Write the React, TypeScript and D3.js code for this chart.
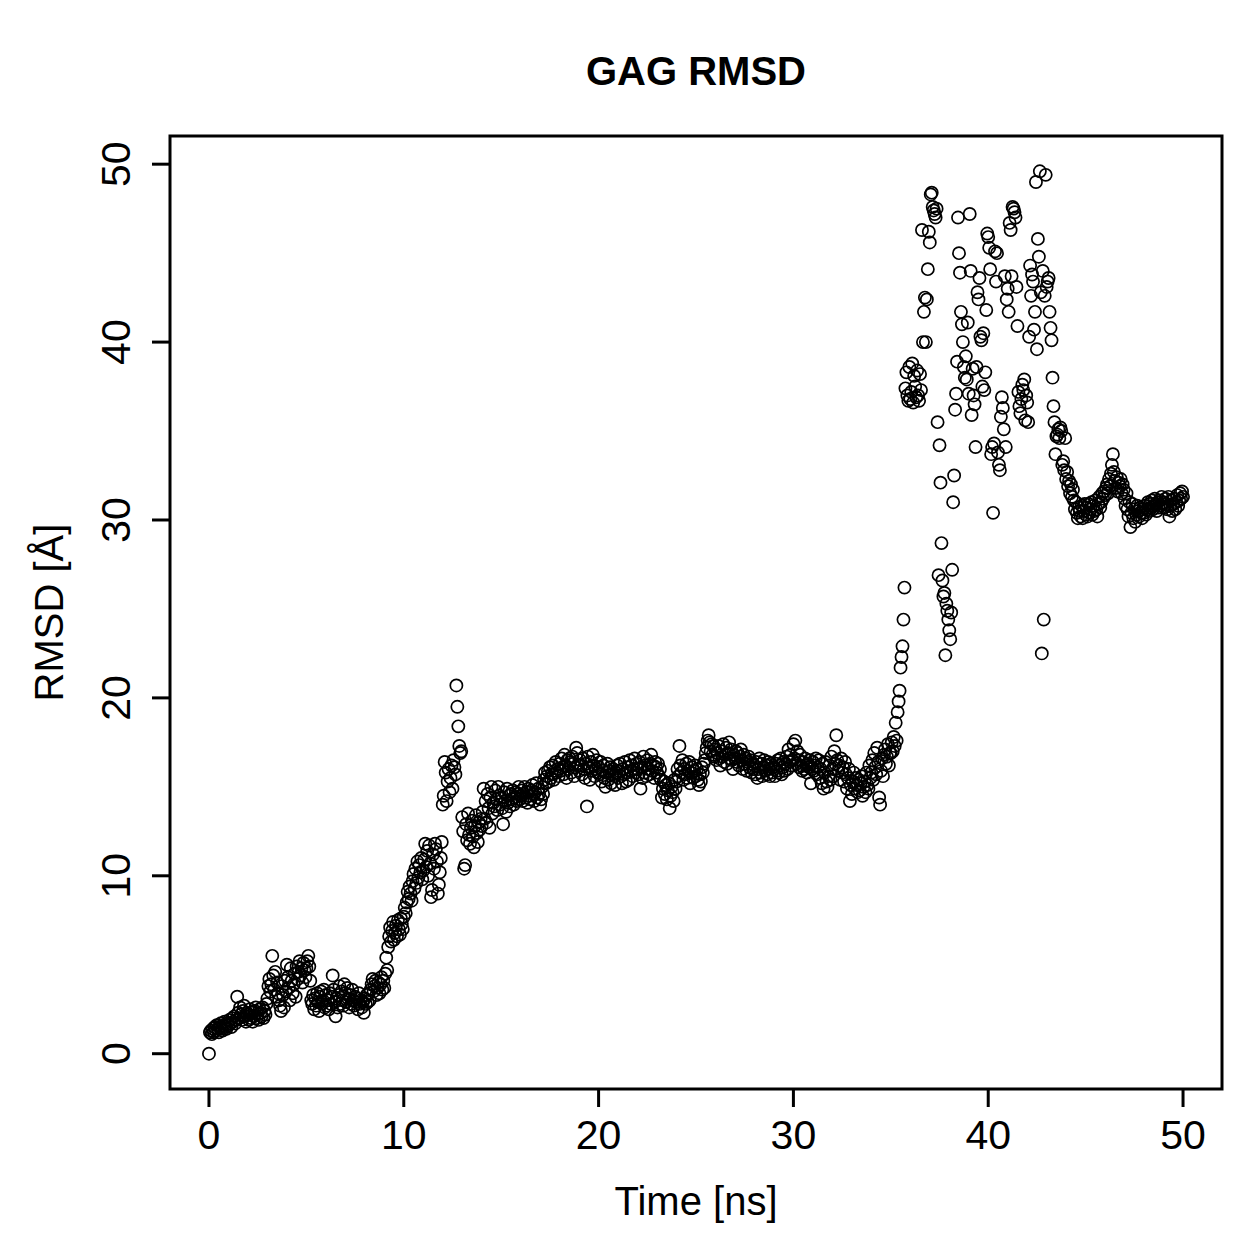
import React from "react";
import * as d3 from "d3";

// GAG backbone RMSD over a 50 ns trajectory, one frame every 0.05 ns.
// Each row holds the frames of one nanosecond; row index = starting ns.
const rmsdEarly: number[][] = [
  [0, 1.2, 1.3, 1.1, 1.4, 1.2, 1.5, 1.3, 1.6, 1.4, 1.2, 1.5, 1.7, 1.4, 1.3, 1.6, 1.8, 1.5, 1.4, 1.7],
  [1.6, 1.9, 1.7, 1.5, 2.0, 1.8, 2.1, 1.7, 1.9, 3.2, 2.3, 2.0, 2.6, 2.2, 1.9, 2.4, 2.7, 2.1, 1.8, 2.3],
  [2.2, 1.9, 2.5, 2.0, 2.3, 1.8, 2.1, 2.4, 2.6, 2.0, 2.2, 1.9, 2.5, 2.3, 2.1, 2.6, 2.0, 2.4, 2.2, 2.8],
  [3.1, 3.8, 4.2, 3.5, 3.9, 5.5, 4.4, 3.6, 4.6, 3.2, 4.0, 3.4, 3.0, 2.7, 2.4, 3.8, 3.3, 2.6, 4.1, 3.5],
  [5.0, 4.3, 3.7, 3.0, 4.8, 4.1, 3.4, 3.9, 4.5, 3.2, 4.9, 4.2, 4.6, 5.2, 4.4, 4.8, 4.0, 5.1, 4.7, 4.3],
  [4.8, 5.2, 5.5, 4.9, 4.1, 3.0, 2.8, 3.3, 2.5, 3.1, 2.7, 3.4, 2.9, 2.4, 3.2, 3.5, 2.8, 3.0, 3.6, 2.6],
  [3.3, 2.7, 3.0, 2.5, 3.4, 2.8, 3.2, 4.4, 3.6, 2.9, 2.1, 3.1, 2.6, 3.3, 3.8, 2.8, 3.5, 3.0, 2.7, 3.9],
  [3.4, 2.9, 3.7, 3.1, 2.6, 3.3, 2.8, 3.6, 3.0, 2.7, 3.2, 2.9, 3.1, 2.5, 3.4, 2.8, 3.0, 2.6, 2.9, 2.3],
  [3.1, 2.8, 3.3, 2.9, 3.4, 3.0, 3.6, 3.9, 4.2, 3.5, 3.8, 4.1, 3.3, 3.7, 4.0, 3.4, 3.9, 4.3, 3.6, 4.1],
  [3.7, 4.5, 5.4, 4.7, 6.0, 6.6, 7.1, 6.3, 6.9, 7.4, 6.4, 6.8, 7.2, 6.6, 7.5, 7.0, 6.7, 7.6, 7.3, 7.0],
  [7.7, 8.2, 7.9, 8.5, 9.1, 8.7, 9.4, 9.0, 8.6, 9.7, 10.1, 9.3, 10.4, 9.6, 10.8, 9.9, 10.6, 10.2, 11.0, 9.8],
  [10.3, 10.9, 11.8, 10.5, 11.4, 10.0, 11.7, 10.7, 8.8, 9.2, 11.2, 10.4, 11.8, 11.5, 10.8, 9.0, 9.5, 10.2, 11.0, 11.9],
];

const rmsdPlateau: number[][] = [
  [14.0, 14.5, 16.4, 15.8, 14.2, 15.3, 16.0, 14.7, 15.5, 16.2, 14.9, 16.5, 16.1, 15.7, 20.7, 19.5, 18.4, 17.3, 16.9, 17.0],
  [13.3, 12.5, 10.4, 10.6, 12.9, 12.0, 13.5, 12.3, 11.8, 12.7, 13.1, 12.2, 11.6, 12.8, 13.4, 12.4, 11.9, 13.0, 12.6, 13.2],
  [12.8, 13.6, 14.9, 13.2, 14.2, 13.0, 14.6, 13.8, 12.7, 14.4, 15.0, 13.5, 14.1, 13.9, 14.8, 14.3, 13.7, 15.0, 14.5, 14.0],
  [14.4, 13.8, 12.9, 14.7, 14.2, 13.6, 14.9, 14.1, 14.5, 13.9, 14.6, 14.3, 14.8, 14.0, 14.4, 14.7, 14.2, 14.6, 15.0, 14.3],
  [14.5, 14.8, 14.2, 14.6, 15.0, 14.4, 14.7, 14.1, 14.9, 14.5, 14.3, 14.8, 15.1, 14.6, 14.2, 14.7, 15.2, 14.4, 14.9, 14.6],
  [14.0, 14.3, 15.0, 14.6, 15.4, 15.8, 15.2, 15.6, 15.9, 15.3, 16.1, 15.5, 15.7, 16.2, 15.4, 15.9, 16.4, 15.8, 16.0, 15.6],
  [16.3, 15.9, 16.6, 16.1, 15.7, 16.8, 16.2, 15.5, 16.5, 16.0, 16.6, 16.4, 15.8, 16.7, 16.3, 15.6, 16.1, 17.2, 16.9, 16.2],
  [15.9, 16.5, 16.2, 15.7, 16.6, 16.0, 15.5, 16.3, 13.9, 16.7, 16.1, 15.4, 16.4, 15.9, 16.8, 16.2, 15.6, 16.0, 16.5, 15.8],
  [16.1, 15.7, 16.4, 15.3, 15.9, 16.2, 15.5, 15.0, 15.8, 16.3, 15.4, 15.9, 16.1, 15.2, 15.7, 16.0, 15.6, 15.1, 15.8, 16.2],
  [15.5, 15.9, 16.3, 15.6, 15.2, 16.0, 15.7, 16.4, 15.3, 15.8, 16.1, 15.4, 16.5, 15.9, 16.2, 15.6, 16.0, 16.6, 15.8, 16.3],
  [16.0, 15.7, 16.4, 14.9, 16.1, 15.5, 16.7, 15.8, 16.2, 15.6, 16.5, 16.0, 15.7, 16.3, 16.8, 15.9, 16.2, 15.5, 16.4, 16.1],
  [15.8, 16.3, 15.6, 16.0, 15.4, 14.4, 14.9, 15.3, 14.6, 15.1, 14.3, 14.8, 15.2, 13.8, 14.5, 15.0, 14.7, 14.2, 15.4, 14.9],
  [15.3, 16.0, 15.6, 17.3, 16.2, 15.8, 16.5, 15.4, 16.0, 15.7, 16.3, 15.5, 15.9, 16.4, 15.2, 15.8, 16.1, 15.5, 15.9, 16.2],
  [15.6, 16.0, 15.4, 15.1, 15.7, 15.3, 16.1, 15.8, 16.3, 16.5, 16.9, 17.2, 17.6, 17.9, 17.5, 17.0, 17.4, 16.8, 17.3, 16.7],
  [17.1, 16.5, 16.9, 17.3, 16.6, 16.2, 17.0, 16.7, 17.4, 16.4, 16.8, 17.2, 16.3, 16.9, 17.5, 16.6, 17.1, 16.5, 16.0, 16.8],
  [16.6, 17.0, 16.4, 16.9, 16.2, 16.7, 17.1, 16.5, 16.0, 16.8, 16.3, 16.6, 15.9, 16.4, 16.7, 16.1, 16.5, 15.8, 16.3, 16.0],
  [16.2, 15.7, 16.4, 15.5, 16.0, 16.6, 15.8, 16.3, 15.6, 16.1, 16.5, 15.9, 16.2, 15.7, 16.4, 16.0, 15.6, 16.3, 15.8, 16.1],
  [16.0, 15.6, 16.3, 15.9, 16.5, 15.8, 16.2, 16.6, 15.7, 16.1, 16.4, 15.9, 16.3, 16.7, 16.0, 17.1, 16.4, 16.8, 16.2, 16.5],
  [17.4, 16.6, 17.6, 16.3, 17.0, 16.5, 16.1, 16.8, 16.2, 15.9, 16.4, 16.0, 16.6, 16.2, 15.8, 16.3, 16.1, 16.5, 15.2, 16.0],
  [16.4, 15.9, 16.2, 16.6, 15.7, 16.1, 16.5, 15.5, 16.0, 15.2, 16.3, 14.9, 15.8, 16.4, 15.3, 15.0, 15.6, 16.2, 15.4, 16.7],
  [16.0, 15.6, 17.0, 16.3, 17.9, 16.5, 15.9, 16.2, 15.4, 16.6, 15.8, 16.1, 15.3, 16.4, 15.7, 14.9, 15.5, 16.0, 14.2, 15.1],
  [14.6, 15.3, 15.8, 14.9, 15.5, 15.1, 14.7, 15.4, 14.8, 15.2, 15.6, 14.5, 15.0, 15.3, 14.7, 15.8, 15.1, 14.9, 16.2, 15.5],
  [15.8, 16.5, 15.4, 16.9, 16.1, 15.7, 17.2, 16.4, 14.4, 14.0, 15.9, 16.6, 15.6, 16.8, 17.1, 16.3, 16.7, 17.4, 16.2, 16.9],
];

const rmsdTransition: number[][] = [
  [16.9, 17.5, 17.0, 17.8, 17.3, 18.6, 17.6, 19.2, 19.8, 20.4, 21.7, 22.3, 22.9, 24.4, 26.2, 37.4, 38.3, 37.0, 36.7, 38.6],
  [36.8, 37.2, 38.8, 36.6, 38.1, 37.5, 36.9, 38.4, 37.0, 36.7, 38.2, 37.3, 46.3, 40.0, 41.7, 42.5, 40.0, 42.4, 44.1, 46.2],
  [45.6, 48.3, 48.4, 47.6, 47.4, 47.2, 47.0, 47.5, 35.5, 26.9, 34.2, 32.1, 28.7, 26.6, 25.7, 25.9, 22.4, 25.3, 24.9, 24.4],
  [23.8, 23.3, 24.8, 27.2, 31.0, 32.5, 36.2, 37.1, 38.9, 47.0, 45.0, 43.9, 41.7, 41.0, 40.0, 38.6, 38.0, 39.2, 37.9, 41.1],
  [37.1, 47.2, 44.0, 35.9, 38.5, 37.0, 36.5, 34.1, 38.6, 42.8, 42.4, 43.6, 40.3, 40.1, 37.5, 40.5, 37.3, 38.3, 41.8, 46.1],
  [45.9, 45.3, 44.1, 33.7, 34.1, 30.4, 34.3, 45.1, 43.4, 45.0, 33.8, 33.1, 32.8, 35.8, 36.9, 36.3, 35.1, 43.7, 34.1, 42.4],
  [43.0, 41.7, 46.7, 46.3, 43.7, 47.6, 47.5, 47.3, 47.0, 43.1, 40.9, 37.2, 36.4, 36.0, 36.8, 37.6, 37.3, 37.9, 35.6, 37.0],
  [36.6, 35.5, 40.3, 44.3, 42.6, 43.8, 43.4, 40.7, 41.7, 49.0, 39.6, 45.8, 44.8, 49.6, 42.8, 22.5, 44.0, 24.4, 42.6, 49.4],
  [43.1, 43.4, 43.6, 41.7, 40.8, 40.1, 38.0, 36.4, 35.5, 33.7, 34.7, 34.8, 35.1, 34.6, 35.2, 35.0, 33.1, 33.3, 32.8, 34.6],
];

const rmsdLate: number[][] = [
  [32.3, 32.7, 31.9, 32.2, 31.5, 32.0, 31.3, 31.7, 31.1, 30.6, 31.0, 30.4, 30.1, 30.7, 30.5, 30.2, 30.8, 30.1, 30.5, 30.9],
  [30.3, 30.7, 30.2, 30.9, 30.4, 30.6, 31.0, 30.3, 30.8, 30.5, 31.1, 30.6, 30.2, 30.9, 31.3, 30.7, 31.0, 31.5, 31.2, 31.6],
  [31.4, 31.8, 32.0, 31.5, 32.3, 31.9, 32.6, 33.1, 33.7, 32.7, 32.2, 31.8, 32.4, 31.6, 32.1, 31.9, 32.3, 31.5, 32.0, 31.7],
  [31.2, 30.8, 31.5, 30.6, 30.2, 31.0, 29.6, 30.4, 30.9, 30.1, 30.6, 29.9, 30.3, 30.8, 30.5, 30.2, 30.7, 30.4, 30.1, 30.6],
  [30.4, 30.8, 30.3, 30.6, 31.0, 30.5, 30.9, 30.7, 31.1, 30.6, 30.8, 31.2, 30.9, 30.5, 31.0, 30.7, 31.1, 30.8, 31.3, 30.9],
  [31.0, 30.7, 31.2, 30.9, 30.6, 31.3, 30.2, 30.8, 31.1, 30.5, 30.9, 31.2, 30.6, 31.0, 31.4, 30.8, 31.1, 31.5, 31.2, 31.6],
  [31.3],
];

const xTicks = [0, 10, 20, 30, 40, 50];
const yTicks = [0, 10, 20, 30, 40, 50];

const W = 1259;
const H = 1259;
const box = { left: 170, right: 1222, top: 136, bottom: 1089 };
const FONT = "'Liberation Sans', Arial, Helvetica, sans-serif";

type Frame = { t: number; v: number };

const frames: Frame[] = [...rmsdEarly, ...rmsdPlateau, ...rmsdTransition, ...rmsdLate].flatMap(
  (row, ns) => row.map((v, j) => ({ t: ns + j / row.length, v }))
);

// R-style axis limits: data range padded by 4% on each side
function padded([lo, hi]: [number, number]): [number, number] {
  const d = (hi - lo) * 0.04;
  return [lo - d, hi + d];
}

export default function App() {
  const tExt = d3.extent(frames, (d) => d.t) as [number, number];
  const vExt = d3.extent(frames, (d) => d.v) as [number, number];
  const x = d3.scaleLinear().domain(padded(tExt)).range([box.left, box.right]);
  const y = d3.scaleLinear().domain(padded(vExt)).range([box.bottom, box.top]);
  const cx = (box.left + box.right) / 2;
  const cy = (box.top + box.bottom) / 2;

  return (
    <svg
      width={W}
      height={H}
      viewBox={`0 0 ${W} ${H}`}
      style={{ position: "absolute", left: 0, top: 0, background: "#fff" }}
      fontFamily={FONT}
    >
      <rect x={0} y={0} width={W} height={H} fill="#fff" />
      <text x={cx} y={85} textAnchor="middle" fontSize={40} fontWeight="bold">
        GAG RMSD
      </text>

      <g fill="none" stroke="#000" strokeWidth={1.7}>
        {frames.map((d, i) => (
          <circle key={i} cx={x(d.t)} cy={y(d.v)} r={6.1} />
        ))}
      </g>

      <rect
        x={box.left}
        y={box.top}
        width={box.right - box.left}
        height={box.bottom - box.top}
        fill="none"
        stroke="#000"
        strokeWidth={3}
      />

      {xTicks.map((t) => (
        <g key={`x${t}`}>
          <line x1={x(t)} x2={x(t)} y1={box.bottom} y2={box.bottom + 18} stroke="#000" strokeWidth={3} />
          <text x={x(t)} y={1149} textAnchor="middle" fontSize={41}>
            {t}
          </text>
        </g>
      ))}

      {yTicks.map((v) => (
        <g key={`y${v}`}>
          <line x1={box.left} x2={box.left - 18} y1={y(v)} y2={y(v)} stroke="#000" strokeWidth={3} />
          <text transform={`translate(130,${y(v)}) rotate(-90)`} textAnchor="middle" fontSize={41}>
            {v}
          </text>
        </g>
      ))}

      <text x={cx} y={1215} textAnchor="middle" fontSize={40}>
        Time [ns]
      </text>
      <text transform={`translate(63,${cy}) rotate(-90)`} textAnchor="middle" fontSize={40}>
        RMSD [Å]
      </text>
    </svg>
  );
}
